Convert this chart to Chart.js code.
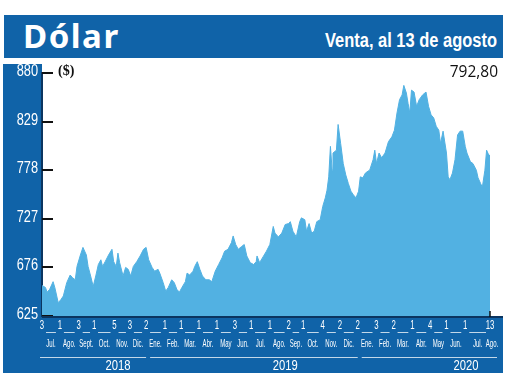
<!DOCTYPE html>
<html>
<head>
<meta charset="utf-8">
<script src="https://cdn.jsdelivr.net/npm/chart.js"></script>
<style>
  body { margin: 0; background: #fff; }
  #wrap { position: relative; width: 520px; height: 390px; overflow: hidden; }
  #chart { position: absolute; left: 0; top: 0; }
  .bar { position: absolute; left: 4px; top: 15px; width: 499px; height: 43px; background: #1063a8; }
  .big { position: absolute; left: 23px; top: 19px; font: bold 33px/1 "Noto Sans", sans-serif; letter-spacing: 1.5px; color: #fff; white-space: nowrap; }
  .sub { position: absolute; right: 23px; top: 30px; font: bold 20px/1 "Liberation Sans Narrow", "Liberation Sans", sans-serif; color: #fff; white-space: nowrap; transform-origin: right center; }
  .unit { position: absolute; left: 58px; top: 64px; font: bold 14px/1 "Liberation Serif", serif; color: #111; }
  .last { position: absolute; right: 22px; top: 64px; font: 15.5px/1 "Open Sans", sans-serif; color: #111; }
</style>
</head>
<body>
<div id="wrap">
  <div class="bar"></div>
  <div class="big">Dólar</div>
  <div class="sub" id="sub">Venta, al 13 de agosto</div>
  <canvas id="chart" width="520" height="390"></canvas>
  <div class="unit">($)</div>
  <div class="last">792,80</div>
</div>
<script>
// dólar venta, pesos; x = días hábiles desde el 3 de julio de 2018
const tradingDay = [0, 4, 6, 9, 13, 15, 19, 22, 25, 29, 33, 36, 39, 41, 45, 48, 52, 54, 57, 60,
  63, 66, 69, 71, 74, 78, 82, 84, 87, 89, 91, 95, 98, 101, 104, 107, 111, 115, 119, 122,
  125, 129, 132, 136, 138, 142, 145, 148, 152, 155, 158, 161, 164, 168, 170, 173, 177, 179, 182, 185,
  188, 192, 196, 199, 203, 207, 211, 214, 218, 222, 224, 227, 230, 234, 237, 240, 244, 248, 251, 252,
  255, 259, 263, 267, 271, 273, 277, 281, 285, 289, 291, 294, 298, 302, 304, 308, 310, 313, 316, 319,
  322, 326, 329, 332, 334, 336, 338, 340, 341, 345, 347, 350, 353, 356, 359, 362, 365, 368, 371, 373,
  376, 379, 382, 384, 388, 390, 392, 395, 398, 402, 406, 410, 413, 416, 419, 422, 424, 427, 429, 431,
  433, 436, 439, 442, 446, 450, 453, 456, 459, 462, 465, 467, 470, 474, 476, 478, 481, 484, 487, 490,
  493, 496, 498, 502, 505, 509, 511, 514, 516, 519, 521, 523, 525];
const venta = [657, 655, 650, 653, 661, 655, 639, 642, 646, 660, 668, 665, 663, 677, 689, 697, 689, 677, 667, 656,
  667, 679, 684, 677, 682, 689, 695, 682, 677, 691, 681, 667, 676, 674, 667, 677, 682, 688, 695, 697,
  684, 676, 672, 674, 670, 660, 651, 655, 663, 660, 653, 650, 655, 661, 670, 668, 672, 677, 682, 674,
  667, 663, 663, 661, 672, 679, 686, 693, 695, 702, 709, 700, 695, 698, 700, 688, 681, 679, 682, 688,
  681, 687, 693, 700, 719, 712, 708, 712, 721, 722, 724, 714, 708, 724, 728, 726, 714, 722, 712, 714,
  724, 726, 740, 749, 757, 771, 803, 778, 796, 799, 826, 806, 785, 773, 764, 756, 752, 749, 756, 771,
  770, 775, 777, 778, 789, 799, 785, 796, 791, 796, 808, 813, 820, 838, 852, 857, 867, 859, 848, 838,
  862, 860, 845, 852, 857, 860, 845, 836, 833, 824, 820, 806, 819, 796, 771, 768, 775, 789, 815, 819,
  819, 803, 796, 787, 785, 778, 770, 764, 760, 778, 799, 795, 792.8];

const yTicks = [625, 676, 727, 778, 829, 880];

// primer día hábil de cada mes (en días hábiles) y su número de día
const monthStart = [0, 21, 43, 61, 85, 103, 122, 144, 163, 184, 205, 226, 245,
  267, 289, 306, 329, 349, 370, 392, 412, 434, 455, 474, 496, 525];
const dayNumber = [3, 1, 3, 1, 5, 3, 2, 1, 1, 1, 1, 3, 1, 1, 2, 1, 4, 2, 2, 3, 2, 1, 4, 1, 1, 13];
const monthName = ['Jul.', 'Ago.', 'Sept.', 'Oct.', 'Nov.', 'Dic.',
  'Ene.', 'Feb.', 'Mar.', 'Abr.', 'May', 'Jun.', 'Jul.', 'Ago.', 'Sep.', 'Oct.', 'Nov.', 'Dic.',
  'Ene.', 'Feb.', 'Mar.', 'Abr.', 'May', 'Jun.', 'Jul.', 'Ago.'];
const years = ['2018', '2019', '2020'];
const yearStart = [0, 122, 370];
const yearLabelDay = [89, 285, 497];

const BLUE = '#1063a8';
const FILL = '#52b1e2';
const FONT = '"Liberation Sans", sans-serif';

// ajustar el subtítulo al ancho del original
const sub = document.getElementById('sub');
sub.style.transform = 'scaleX(' + (172 / sub.offsetWidth) + ')';

// texto condensado
function narrow(ctx, text, x, y, sx) {
    ctx.save();
    ctx.translate(x, y);
    ctx.scale(sx, 1);
    ctx.fillText(text, 0, 0);
    ctx.restore();
}

const frame = {
    id: 'frame',
    beforeDraw(chart) {
        const {ctx, chartArea: a} = chart;
        ctx.save();
        ctx.fillStyle = BLUE;
        ctx.fillRect(3, 64, a.left - 3, a.bottom - 64);
        ctx.fillRect(3, a.bottom, 500, 373 - a.bottom);
        ctx.restore();
    },
    afterDatasetsDraw(chart) {
        const {ctx, chartArea: a, scales} = chart;
        ctx.save();
        // etiquetas y marcas del eje y
        ctx.fillStyle = '#fff';
        ctx.font = '16px ' + FONT;
        ctx.textAlign = 'right';
        ctx.textBaseline = 'middle';
        ctx.strokeStyle = '#111';
        ctx.lineWidth = 2;
        scales.y.ticks.forEach(t => {
            const y = Math.round(scales.y.getPixelForValue(t.value));
            narrow(ctx, String(t.value), a.left - 4, y - 1, 0.8);
            ctx.beginPath();
            ctx.moveTo(a.left, y);
            ctx.lineTo(a.left + 11, y);
            ctx.stroke();
        });
        // línea inferior
        ctx.strokeStyle = '#0b3560';
        ctx.beginPath();
        ctx.moveTo(a.left, a.bottom + 1);
        ctx.lineTo(503, a.bottom + 1);
        ctx.stroke();
        // marca del último dato
        const xe = Math.round(scales.x.getPixelForValue(tradingDay[tradingDay.length - 1]));
        ctx.strokeStyle = '#111';
        ctx.lineWidth = 1.5;
        ctx.beginPath();
        ctx.moveTo(xe, a.bottom - 5);
        ctx.lineTo(xe, a.bottom + 1);
        ctx.stroke();
        ctx.restore();
    },
    afterDraw(chart) {
        const {ctx, scales} = chart;
        const px = d => scales.x.getPixelForValue(d);
        ctx.save();
        ctx.fillStyle = '#fff';
        ctx.strokeStyle = 'rgba(255,255,255,0.75)';
        ctx.lineWidth = 1;
        ctx.textAlign = 'center';
        ctx.textBaseline = 'middle';

        ctx.font = '12px ' + FONT;
        monthStart.forEach((d, i) => narrow(ctx, String(dayNumber[i]), px(d), 326, 0.65));
        for (let i = 0; i < monthStart.length - 1; i++) {
            ctx.beginPath();
            ctx.moveTo(px(monthStart[i]) + 4, 332.5);
            ctx.lineTo(px(monthStart[i + 1]) - 4, 332.5);
            ctx.stroke();
        }

        ctx.font = '11px ' + FONT;
        monthName.forEach((m, i) => {
            const x = i < monthStart.length - 1
                ? (px(monthStart[i]) + px(monthStart[i + 1])) / 2
                : px(monthStart[i]) + 2;
            narrow(ctx, m, x, 344, 0.55);
        });

        ctx.font = '15px ' + FONT;
        years.forEach((y, i) => {
            const x0 = i === 0 ? px(yearStart[i]) - 2 : px(yearStart[i]) + 4;
            const x1 = i < years.length - 1 ? px(yearStart[i + 1]) : px(monthStart[monthStart.length - 1]) + 7;
            ctx.beginPath();
            ctx.moveTo(x0, 357.5);
            ctx.lineTo(x1, 357.5);
            ctx.stroke();
            narrow(ctx, y, px(yearLabelDay[i]), 366, 0.75);
        });
        ctx.restore();
    }
};

new Chart(document.getElementById('chart'), {
    type: 'line',
    data: {
        datasets: [{
            data: tradingDay.map((d, i) => ({x: d, y: venta[i]})),
            borderColor: FILL,
            borderWidth: 1,
            backgroundColor: FILL,
            fill: 'start',
            pointRadius: 0,
            tension: 0
        }]
    },
    options: {
        responsive: false,
        animation: false,
        layout: {padding: {left: 3, right: 30, top: 73, bottom: 74}},
        plugins: {legend: {display: false}, tooltip: {enabled: false}},
        scales: {
            x: {type: 'linear', min: 0, max: 525, display: false},
            y: {
                min: 625,
                max: 880,
                afterFit: s => { s.width = 39; },
                afterBuildTicks: s => { s.ticks = yTicks.map(v => ({value: v})); },
                ticks: {display: false},
                grid: {display: false, drawTicks: false},
                border: {display: true, color: '#0b3560', width: 2}
            }
        }
    },
    plugins: [frame]
});
</script>
</body>
</html>
